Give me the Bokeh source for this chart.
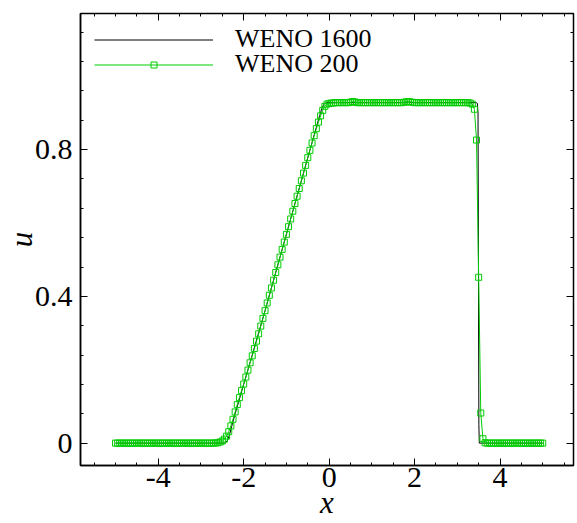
from bokeh.plotting import figure
from bokeh.models import LinearAxis, FixedTicker, Range1d, Legend, LegendItem
from bokeh.embed import file_html
from bokeh.resources import INLINE

# ---------------- data ----------------
# WENO 200 (marked): grid points and velocity values
x_weno200 = [
    -5.00, -4.95, -4.90, -4.85, -4.80, -4.75, -4.70, -4.65, -4.60, -4.55,
    -4.50, -4.45, -4.40, -4.35, -4.30, -4.25, -4.20, -4.15, -4.10, -4.05,
    -4.00, -3.95, -3.90, -3.85, -3.80, -3.75, -3.70, -3.65, -3.60, -3.55,
    -3.50, -3.45, -3.40, -3.35, -3.30, -3.25, -3.20, -3.15, -3.10, -3.05,
    -3.00, -2.95, -2.90, -2.85, -2.80, -2.75, -2.70, -2.65, -2.60, -2.55,
    -2.50, -2.45, -2.40, -2.35, -2.30, -2.25, -2.20, -2.15, -2.10, -2.05,
    -2.00, -1.95, -1.90, -1.85, -1.80, -1.75, -1.70, -1.65, -1.60, -1.55,
    -1.50, -1.45, -1.40, -1.35, -1.30, -1.25, -1.20, -1.15, -1.10, -1.05,
    -1.00, -0.95, -0.90, -0.85, -0.80, -0.75, -0.70, -0.65, -0.60, -0.55,
    -0.50, -0.45, -0.40, -0.35, -0.30, -0.25, -0.20, -0.15, -0.10, -0.05,
    0.00, 0.05, 0.10, 0.15, 0.20, 0.25, 0.30, 0.35, 0.40, 0.45,
    0.50, 0.55, 0.60, 0.65, 0.70, 0.75, 0.80, 0.85, 0.90, 0.95,
    1.00, 1.05, 1.10, 1.15, 1.20, 1.25, 1.30, 1.35, 1.40, 1.45,
    1.50, 1.55, 1.60, 1.65, 1.70, 1.75, 1.80, 1.85, 1.90, 1.95,
    2.00, 2.05, 2.10, 2.15, 2.20, 2.25, 2.30, 2.35, 2.40, 2.45,
    2.50, 2.55, 2.60, 2.65, 2.70, 2.75, 2.80, 2.85, 2.90, 2.95,
    3.00, 3.05, 3.10, 3.15, 3.20, 3.25, 3.30, 3.35, 3.40, 3.45,
    3.50, 3.55, 3.60, 3.65, 3.70, 3.75, 3.80, 3.85, 3.90, 3.95,
    4.00, 4.05, 4.10, 4.15, 4.20, 4.25, 4.30, 4.35, 4.40, 4.45,
    4.50, 4.55, 4.60, 4.65, 4.70, 4.75, 4.80, 4.85, 4.90, 4.95,
    5.00,
]
u_weno200 = [
    0.0, 0.0, 0.0, 0.0, 0.0, 0.0, 0.0, 0.0, 0.0, 0.0,
    0.0, 0.0, 0.0, 0.0, 0.0, 0.0, 0.0, 0.0, 0.0, 0.0,
    0.0, 0.0, 0.0, 0.0, 0.0, 0.0, 0.0, 0.0, 0.0, 0.0,
    0.0, 0.0, 0.0, 0.0, 0.0, 0.0, 0.0, 0.0, 0.0, 0.0,
    0.0, 0.0, 0.0, 0.0, 0.0, 0.0, 0.0, 0.0005, 0.001, 0.003,
    0.006, 0.011, 0.019, 0.031, 0.047, 0.065, 0.085, 0.105, 0.124, 0.143,
    0.161, 0.180, 0.199, 0.219, 0.238, 0.258, 0.278, 0.298, 0.319, 0.340,
    0.361, 0.382, 0.403, 0.423, 0.444, 0.465, 0.486, 0.507, 0.528, 0.548,
    0.569, 0.590, 0.611, 0.632, 0.653, 0.673, 0.694, 0.715, 0.736, 0.757,
    0.778, 0.798, 0.818, 0.838, 0.857, 0.875, 0.892, 0.907, 0.918, 0.924,
    0.926, 0.927, 0.927, 0.928, 0.928, 0.928, 0.928, 0.928, 0.928, 0.928,
    0.929, 0.931, 0.930, 0.928, 0.928, 0.928, 0.928, 0.928, 0.928, 0.928,
    0.928, 0.928, 0.928, 0.928, 0.928, 0.928, 0.928, 0.928, 0.928, 0.928,
    0.928, 0.928, 0.928, 0.928, 0.928, 0.929, 0.930, 0.931, 0.930, 0.929,
    0.928, 0.928, 0.928, 0.928, 0.928, 0.928, 0.928, 0.928, 0.928, 0.928,
    0.928, 0.928, 0.928, 0.928, 0.928, 0.928, 0.928, 0.928, 0.928, 0.928,
    0.928, 0.928, 0.928, 0.928, 0.928, 0.928, 0.927, 0.924, 0.910, 0.826,
    0.452, 0.082, 0.012, 0.001, 0.0, 0.0, 0.0, 0.0, 0.0, 0.0,
    0.0, 0.0, 0.0, 0.0, 0.0, 0.0, 0.0, 0.0, 0.0, 0.0,
    0.0, 0.0, 0.0, 0.0, 0.0, 0.0, 0.0, 0.0, 0.0, 0.0,
    0.0,
]

# WENO 1600 (thin black reference line): vertices
x_weno1600 = [-5.0, -2.45, -2.42, -2.39, -2.36, -2.33, -2.28, -2.20, -1.50, -0.80,
              -0.30, -0.22, -0.17, -0.13, -0.10, -0.05, 0.10, 1.80, 1.86, 1.92,
              3.44, 3.47, 3.485, 3.495, 3.505, 3.515, 5.0]
u_weno1600 = [0.0, 0.0, 0.002, 0.006, 0.013, 0.024, 0.046, 0.080, 0.361, 0.653,
              0.861, 0.893, 0.912, 0.922, 0.926, 0.928, 0.928, 0.928, 0.930, 0.928,
              0.928, 0.926, 0.900, 0.500, 0.050, 0.0, 0.0]

series_labels = ["WENO 1600", "WENO 200"]
x_title = "x"
y_title = "u"

x_major_ticks = [-4, -2, 0, 2, 4]
x_tick_labels = ["-4", "-2", "0", "2", "4"]
x_minor_ticks = [-5.5, -5, -4.5, -3.5, -3, -2.5, -1.5, -1, -0.5, 0.5, 1, 1.5,
                 2.5, 3, 3.5, 4.5, 5, 5.5]
y_major_ticks = [0, 0.4, 0.8]
y_tick_labels = ["0", "0.4", "0.8"]
y_minor_ticks = [0.08, 0.16, 0.24, 0.32, 0.48, 0.56, 0.64, 0.72, 0.88, 0.96,
                 1.04, 1.12]

# ---------------- figure ----------------
SERIF = "Liberation Serif"
GREEN = "#00cc00"

p = figure(width=577, height=523, output_backend="svg", toolbar_location=None,
           x_range=Range1d(-5.82, 5.72), y_range=Range1d(-0.061, 1.171),
           min_border_left=80, min_border_right=4, min_border_top=13,
           min_border_bottom=58)
p.grid.visible = False
p.outline_line_color = "black"
p.outline_line_width = 1.5
p.background_fill_color = "white"
p.border_fill_color = "white"

r_black = p.line(x_weno1600, u_weno1600, line_color="black", line_width=1)
r_green = p.line(x_weno200, u_weno200, line_color=GREEN, line_width=1)
r_mark = p.scatter(x_weno200, u_weno200, marker="square", size=6,
                   line_color=GREEN, line_width=1, fill_color=None)

xt = FixedTicker(ticks=x_major_ticks, minor_ticks=x_minor_ticks)
yt = FixedTicker(ticks=y_major_ticks, minor_ticks=y_minor_ticks)


def style_axis(ax):
    ax.axis_line_color = "black"
    ax.axis_line_width = 1.5
    ax.major_tick_in = 7
    ax.major_tick_out = 0
    ax.minor_tick_in = 3
    ax.minor_tick_out = 0
    ax.major_tick_line_color = "black"
    ax.minor_tick_line_color = "black"
    ax.major_tick_line_width = 1
    ax.minor_tick_line_width = 1


xa = p.xaxis[0]
xa.ticker = xt
style_axis(xa)
xa.major_label_overrides = {t: s for t, s in zip(x_major_ticks, x_tick_labels)}
xa.major_label_text_font = SERIF
xa.major_label_text_font_size = "30px"
xa.major_label_text_color = "black"
xa.major_label_standoff = 2
xa.axis_label = x_title
xa.axis_label_text_font = SERIF
xa.axis_label_text_font_style = "italic"
xa.axis_label_text_font_size = "31px"
xa.axis_label_text_color = "black"
xa.axis_label_standoff = -5

ya = p.yaxis[0]
ya.ticker = yt
style_axis(ya)
ya.major_label_overrides = {t: s for t, s in zip(y_major_ticks, y_tick_labels)}
ya.major_label_text_font = SERIF
ya.major_label_text_font_size = "30px"
ya.major_label_text_color = "black"
ya.major_label_standoff = 8
ya.axis_label = y_title
ya.axis_label_text_font = SERIF
ya.axis_label_text_font_style = "italic"
ya.axis_label_text_font_size = "31px"
ya.axis_label_text_color = "black"
ya.axis_label_standoff = -7

top = LinearAxis(ticker=xt)
right = LinearAxis(ticker=yt)
top.major_label_overrides = {t: "" for t in x_major_ticks}
right.major_label_overrides = {t: "" for t in y_major_ticks}
for ax in (top, right):
    style_axis(ax)
    ax.axis_line_color = None
    ax.major_label_text_font_size = "2px"
    ax.major_label_standoff = 0
p.add_layout(top, "above")
p.add_layout(right, "right")


def make_legend(label, renderers, vy):
    lg = Legend(items=[LegendItem(label=label, renderers=renderers)],
                location=(14, vy))
    lg.margin = 0
    lg.padding = 0
    lg.spacing = 0
    lg.glyph_width = 119
    lg.glyph_height = 15
    lg.label_height = 15
    lg.label_standoff = 22
    lg.label_text_font = SERIF
    lg.label_text_font_size = "26px"
    lg.label_text_color = "black"
    lg.background_fill_alpha = 0
    lg.border_line_color = None
    return lg


p.add_layout(make_legend(series_labels[0], [r_black], 411))
p.add_layout(make_legend(series_labels[1], [r_green, r_mark], 386))

open("out.html", "w").write(file_html(p, INLINE))
